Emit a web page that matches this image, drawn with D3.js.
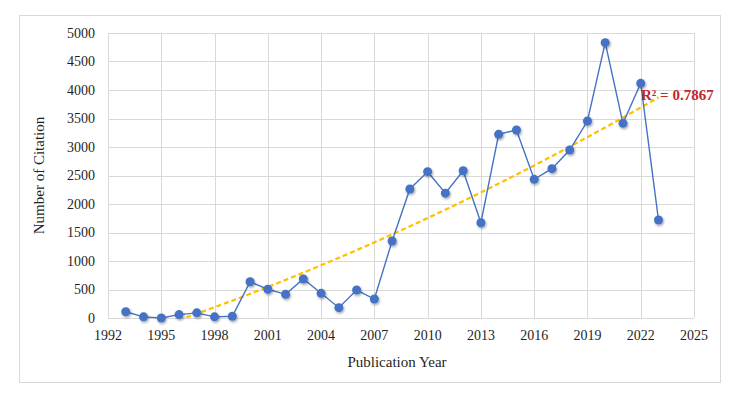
<!DOCTYPE html>
<html>
<head>
<meta charset="utf-8">
<script src="https://cdn.jsdelivr.net/npm/d3@7"></script>
<style>
  body { margin: 0; background: #fff; }
  svg text { font-family: "Liberation Serif", "Times New Roman", serif; }
</style>
</head>
<body>
<svg id="chart" width="731" height="399"></svg>
<script>
const years = [1993, 1994, 1995, 1996, 1997, 1998, 1999, 2000, 2001, 2002, 2003, 2004, 2005, 2006, 2007, 2008,
  2009, 2010, 2011, 2012, 2013, 2014, 2015, 2016, 2017, 2018, 2019, 2020, 2021, 2022, 2023];
const citations = [110, 20, 0, 60, 90, 20, 30, 635, 505, 415, 684, 433, 181, 491, 333, 1351,
  2263, 2567, 2190, 2584, 1672, 3222, 3298, 2433, 2620, 2947, 3456, 4830, 3415, 4117, 1719];
const xTicks = [1992, 1995, 1998, 2001, 2004, 2007, 2010, 2013, 2016, 2019, 2022, 2025];
const yTicks = [0, 500, 1000, 1500, 2000, 2500, 3000, 3500, 4000, 4500, 5000];
const r2Label = "R² = 0.7867";

const svg = d3.select("#chart");
const plotL = 108, plotR = 694, plotT = 33, plotB = 318;

const x = d3.scaleLinear().domain([1992, 2025]).range([plotL, plotR]);
const y = d3.scaleLinear().domain([0, 5000]).range([plotB, plotT]);

// outer frame
svg.append("rect")
  .attr("x", 19.5).attr("y", 15.5).attr("width", 701).attr("height", 367)
  .attr("fill", "#fff").attr("stroke", "#d9d9d9").attr("stroke-width", 1);

const defs = svg.append("defs");
const shadow = defs.append("filter").attr("id", "shadow")
  .attr("x", "-50%").attr("y", "-50%").attr("width", "200%").attr("height", "200%");
shadow.append("feDropShadow").attr("dx", 1).attr("dy", 1.5).attr("stdDeviation", 1)
  .attr("flood-color", "#000").attr("flood-opacity", 0.35);
defs.append("clipPath").attr("id", "plot")
  .append("rect").attr("x", plotL).attr("y", plotT).attr("width", plotR - plotL).attr("height", plotB - plotT);

// gridlines
svg.append("g").selectAll("line").data(yTicks).join("line")
  .attr("x1", plotL).attr("x2", plotR)
  .attr("y1", d => Math.round(y(d)) + 0.5).attr("y2", d => Math.round(y(d)) + 0.5)
  .attr("stroke", "#d9d9d9").attr("stroke-width", 1);
svg.append("g").selectAll("line").data(xTicks).join("line")
  .attr("y1", plotT).attr("y2", plotB)
  .attr("x1", d => Math.round(x(d)) + 0.5).attr("x2", d => Math.round(x(d)) + 0.5)
  .attr("stroke", "#d9d9d9").attr("stroke-width", 1);

// tick labels
svg.append("g").selectAll("text").data(yTicks).join("text")
  .attr("x", 95).attr("y", d => y(d)).attr("dy", "0.35em")
  .attr("text-anchor", "end").attr("font-size", 14).attr("fill", "#1f1f1f")
  .text(d => d);
svg.append("g").selectAll("text").data(xTicks).join("text")
  .attr("x", d => x(d)).attr("y", 340)
  .attr("text-anchor", "middle").attr("font-size", 14).attr("fill", "#1f1f1f")
  .text(d => d);

// axis titles
svg.append("text")
  .attr("transform", `translate(44,${(plotT + plotB) / 2}) rotate(-90)`)
  .attr("text-anchor", "middle").attr("font-size", 15).attr("fill", "#1f1f1f")
  .text("Number of Citation");
svg.append("text")
  .attr("x", 397).attr("y", 367)
  .attr("text-anchor", "middle").attr("font-size", 15).attr("fill", "#1f1f1f")
  .text("Publication Year");

// polynomial (order 2) trendline, least squares fit
const pts = years.map((yr, i) => [yr - 1992, citations[i]]);
const S = k => d3.sum(pts, p => Math.pow(p[0], k));
const T = k => d3.sum(pts, p => Math.pow(p[0], k) * p[1]);
const A = [[S(0), S(1), S(2)], [S(1), S(2), S(3)], [S(2), S(3), S(4)]];
const B = [T(0), T(1), T(2)];
function solve(A, B) {
  const n = B.length, M = A.map((r, i) => [...r, B[i]]);
  for (let i = 0; i < n; i++) {
    let p = i;
    for (let k = i + 1; k < n; k++) if (Math.abs(M[k][i]) > Math.abs(M[p][i])) p = k;
    [M[i], M[p]] = [M[p], M[i]];
    for (let k = i + 1; k < n; k++) {
      const f = M[k][i] / M[i][i];
      for (let j = i; j <= n; j++) M[k][j] -= f * M[i][j];
    }
  }
  const c = new Array(n).fill(0);
  for (let i = n - 1; i >= 0; i--) {
    let s = M[i][n];
    for (let j = i + 1; j < n; j++) s -= M[i][j] * c[j];
    c[i] = s / M[i][i];
  }
  return c;
}
const coef = solve(A, B);
const trend = d3.range(years[0], years[years.length - 1] + 0.001, 0.1)
  .map(t => [t, coef[0] + coef[1] * (t - 1992) + coef[2] * (t - 1992) ** 2]);

svg.append("path")
  .datum(trend)
  .attr("clip-path", "url(#plot)")
  .attr("fill", "none").attr("stroke", "#ffc000").attr("stroke-width", 2.25)
  .attr("stroke-dasharray", "5,3")
  .attr("d", d3.line().x(d => x(d[0])).y(d => y(d[1])));

// series line and markers
svg.append("path")
  .datum(years.map((yr, i) => [yr, citations[i]]))
  .attr("fill", "none").attr("stroke", "#4472c4").attr("stroke-width", 1.4)
  .attr("d", d3.line().x(d => x(d[0])).y(d => y(d[1])));

svg.append("g").attr("filter", "url(#shadow)")
  .selectAll("circle").data(years).join("circle")
  .attr("cx", d => x(d)).attr("cy", (d, i) => y(citations[i]))
  .attr("r", 4.5).attr("fill", "#4472c4");

// R² label
svg.append("text")
  .attr("x", 641).attr("y", 100)
  .attr("font-size", 15).attr("font-weight", "bold").attr("fill", "#c0272d")
  .text(r2Label);
</script>
</body>
</html>
